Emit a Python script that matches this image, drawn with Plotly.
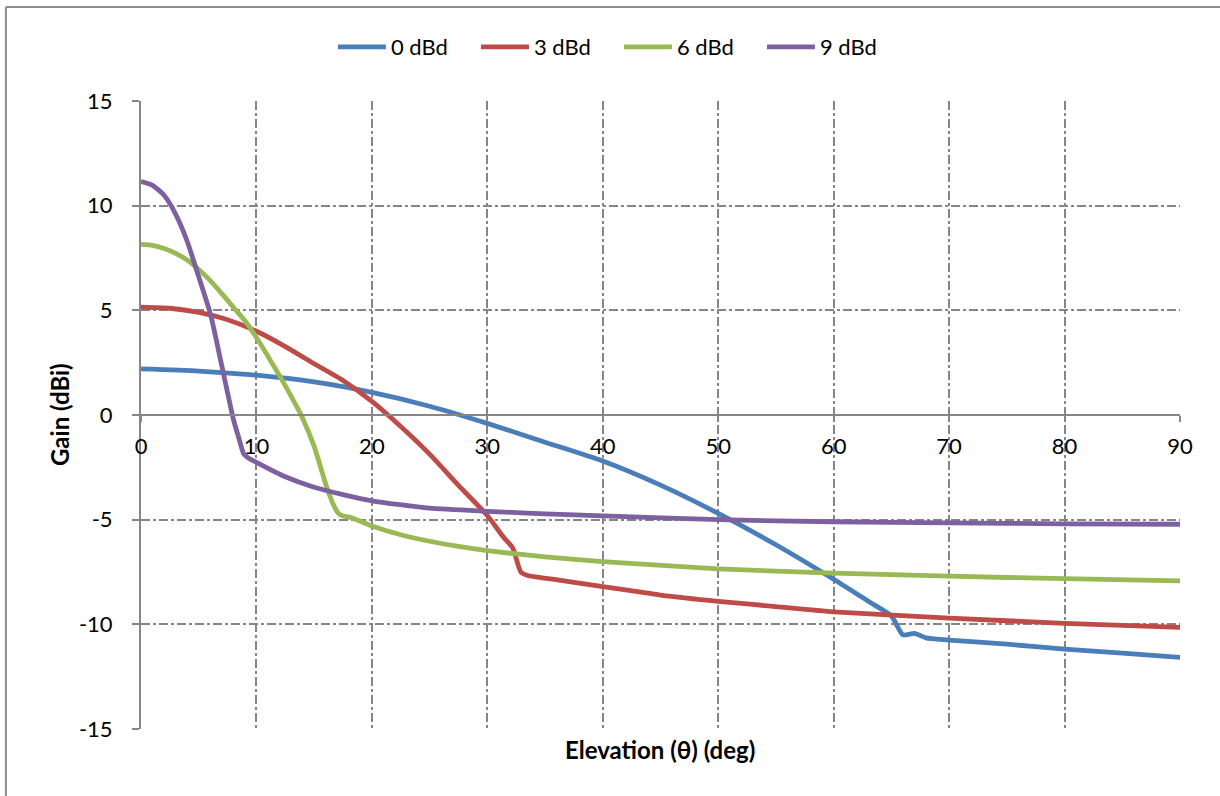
import plotly.graph_objects as go

# ---- data ----
x0 = [0, 5, 10, 15, 20, 25, 30, 35, 40, 45, 50, 55, 60, 63, 65, 66, 67, 68, 70, 75, 80, 85, 90]
y0 = [2.2, 2.1, 1.9, 1.58, 1.08, 0.42, -0.4, -1.3, -2.2, -3.35, -4.7, -6.2, -7.85,
      -8.9, -9.6, -10.5, -10.43, -10.65, -10.75, -10.95, -11.18, -11.38, -11.58]

x3 = [0, 2.5, 5, 7.5, 10, 12.5, 15, 17.5, 20, 22.5, 25, 27.5, 30, 31.4, 32.2, 32.9, 33.5, 35.5,
      40, 45, 50, 55, 60, 70, 80, 90]
y3 = [5.15, 5.1, 4.9, 4.55, 4.0, 3.27, 2.45, 1.65, 0.65, -0.55, -1.87, -3.36, -4.8, -5.84, -6.35,
      -7.5, -7.67, -7.83, -8.2, -8.6, -8.9, -9.15, -9.4, -9.7, -9.95, -10.15]

x6 = [0, 1, 2, 3, 4, 5, 6, 7, 8, 9, 10, 11, 12, 13, 14, 15, 16, 16.6, 17.1, 17.5, 18.15, 20, 22.5,
      25, 27.5, 30, 35, 40, 50, 60, 70, 80, 90]
y6 = [8.15, 8.1, 7.95, 7.72, 7.4, 6.95, 6.42, 5.8, 5.15, 4.5, 3.7, 2.8, 1.88, 0.9, -0.15, -1.5,
      -3.3, -4.2, -4.7, -4.82, -4.89, -5.3, -5.72, -6.03, -6.28, -6.48, -6.78, -7.0, -7.35, -7.55,
      -7.7, -7.82, -7.92]

x9 = [0, 1, 2, 3, 4, 5, 6, 7, 8, 8.5, 8.9, 9.3, 10, 12.5, 15, 17.5, 20, 25, 30, 35, 40, 50, 60, 70, 80, 90]
y9 = [11.15, 10.97, 10.5, 9.6, 8.3, 6.6, 4.85, 2.35, -0.2, -1.15, -1.86, -2.05, -2.26, -2.95,
      -3.45, -3.8, -4.1, -4.45, -4.6, -4.72, -4.82, -5.0, -5.1, -5.15, -5.2, -5.22]

series_names = ["0 dBd", "3 dBd", "6 dBd", "9 dBd"]
series_colors = ["#4A7EBB", "#BE4B48", "#98B954", "#7D60A0"]
x_ticks = [0, 10, 20, 30, 40, 50, 60, 70, 80, 90]
y_ticks = [-15, -10, -5, 0, 5, 10, 15]

FONT = "Lato"
GRID = "#868686"

fig = go.Figure()
for xs, ys, name, col in zip([x0, x3, x6, x9], [y0, y3, y6, y9], series_names, series_colors):
    fig.add_trace(go.Scatter(x=xs, y=ys, name=name, mode="lines",
                             line=dict(color=col, width=4.8, shape="spline", smoothing=0.6)))

fig.update_layout(
    width=1220, height=796,
    margin=dict(l=141, r=40, t=101, b=67),
    paper_bgcolor="white", plot_bgcolor="white",
    font=dict(family=FONT, size=22, color="black"),
    showlegend=True,
    legend=dict(orientation="h", x=0.46, xanchor="center", y=1.086, yanchor="middle",
                font=dict(family=FONT, size=22), itemwidth=48, entrywidth=80,
                traceorder="normal", bgcolor="rgba(0,0,0,0)"),
    xaxis=dict(range=[0, 90], tickvals=x_ticks, ticktext=[str(v) for v in x_ticks],
               anchor="free", position=0.5, showline=True, linecolor=GRID, linewidth=2,
               ticks="outside", ticklen=6, tickcolor=GRID, tickwidth=1.5,
               showgrid=True, gridcolor=GRID, griddash="dashdot", gridwidth=1.5,
               zeroline=False, ticklabelstandoff=6),
    yaxis=dict(range=[-15, 15], tickvals=y_ticks, ticktext=[str(v) for v in y_ticks],
               showline=True, linecolor=GRID, linewidth=2,
               ticks="outside", ticklen=7, tickcolor=GRID, tickwidth=1.5,
               showgrid=True, gridcolor=GRID, griddash="dashdot", gridwidth=1.5,
               zeroline=False, ticklabelstandoff=15),
)

fig.add_annotation(text="<b>Elevation (θ) (deg)</b>", xref="paper", yref="paper",
                   x=0.4995, y=-0.0334, xanchor="center", yanchor="middle",
                   showarrow=False, font=dict(family=FONT, size=24))
fig.add_annotation(text="<b>Gain (dBi)</b>", xref="paper", yref="paper",
                   x=-0.0789, y=0.5, xanchor="center", yanchor="middle", textangle=-90,
                   showarrow=False, font=dict(family=FONT, size=24))

# chart border (top and left visible in the reference)
fig.add_shape(type="line", xref="paper", yref="paper", x0=-0.130, x1=1.05, y0=1.1497, y1=1.1497,
              line=dict(color="#8C8C8C", width=2))
fig.add_shape(type="line", xref="paper", yref="paper", x0=-0.130, x1=-0.130, y0=-0.12, y1=1.1497,
              line=dict(color="#8C8C8C", width=2))

fig.write_html("out.html", post_script="document.body.style.margin='0px';",
               config={"displayModeBar": False})
